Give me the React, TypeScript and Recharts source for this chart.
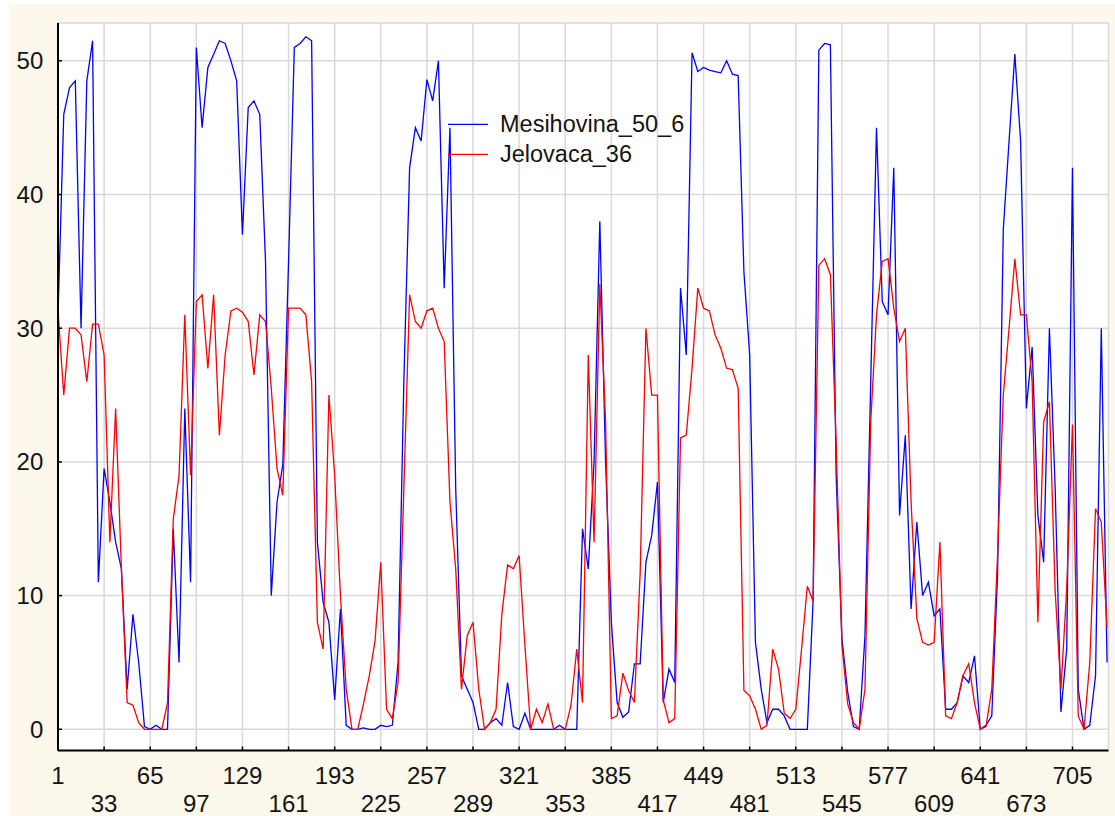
import React from 'react';
import { LineChart, Line, XAxis, YAxis, CartesianGrid, Legend } from 'recharts';

// Readings are taken every 4th day, starting on day 1.
const SAMPLE_STEP = 4;

// Mesihovina_50_6 — one row per 32 days (8 readings)
const mesihovina50_6 = [
  31, 46, 48, 48.5, 30, 48.5, 51.5, 11,
  19.5, 17, 14, 12, 3, 8.6, 5, 0.2,
  0, 0.3, 0, 0, 15, 5, 24, 11,
  51, 45, 49.5, 50.5, 51.5, 51.3, 50, 48.5,
  37, 46.5, 47, 46, 35, 10, 17, 19.8,
  35, 51, 51.3, 51.8, 51.5, 14, 9.5, 8,
  2.2, 9, 0.3, 0, 0, 0.1, 0, 0,
  0.3, 0.2, 0.3, 5, 26, 42, 45, 44,
  48.6, 47, 50, 33, 45, 18, 4, 3,
  2, 0, 0, 0.5, 0.8, 0.3, 3.5, 0.2,
  0, 1.2, 0, 0, 0, 0, 0, 0.3,
  0, 0, 0, 15, 12, 20, 38, 20,
  8, 2, 0.9, 1.3, 4.9, 4.9, 12.5, 14.5,
  18.5, 2, 4.5, 3.5, 33, 28, 50.6, 49.2,
  49.5, 49.3, 49.2, 49.1, 50, 49, 48.9, 34.2,
  28, 6.5, 3, 0.5, 1.5, 1.5, 1, 0,
  0, 0, 0, 9.6, 50.8, 51.3, 51.2, 19,
  6.8, 2.8, 0.2, 0, 7, 26, 45, 32,
  31, 42, 16, 22, 9, 15.5, 10, 11,
  8.5, 9, 1.5, 1.5, 2, 4, 3.5, 5.5,
  0, 0.3, 1, 11.5, 37.4, 44, 50.5, 44,
  24, 28.6, 16, 12.5, 30, 18, 1.3, 6,
  42, 3, 0, 0.3, 4, 30, 5,
];

// Jelovaca_36 — same days as above
const jelovaca36 = [
  31.3, 25, 30, 30, 29.5, 26, 30.3, 30.3,
  28, 14, 24, 12, 2, 1.8, 0.5, 0,
  0, 0, 0, 2, 15.7, 19, 31, 19,
  32, 32.5, 27, 32.5, 22, 28, 31.3, 31.5,
  31.2, 30.5, 26.5, 31, 30.5, 25.5, 19.5, 17.5,
  31.5, 31.5, 31.5, 31, 26, 8, 6, 25,
  19, 10, 3, 0, 0, 1.9, 4, 6.6,
  12.5, 1.5, 0.8, 3.5, 18, 32.5, 30.5, 30,
  31.3, 31.5, 30, 29, 17, 12, 3, 7,
  8, 3, 0, 0.5, 1.5, 8.6, 12.3, 12,
  13, 6.3, 0, 1.5, 0.5, 1.9, 0, 0,
  0, 1.8, 6, 2, 28, 14, 33.3, 23,
  0.8, 1, 4.2, 2.9, 2, 11.7, 30, 25,
  25, 2.2, 0.5, 0.8, 21.8, 22, 27, 33,
  31.5, 31.3, 29.5, 28.5, 27, 26.9, 25.5, 2.9,
  2.5, 1.5, 0, 0.3, 6, 4.5, 1.2, 0.8,
  1.5, 6, 10.7, 9.6, 34.7, 35.2, 34, 21.5,
  6.3, 1.9, 0.5, 0, 3, 23, 31, 35,
  35.2, 31.5, 29, 30, 17, 8.3, 6.5, 6.3,
  6.5, 14, 1, 0.8, 2, 4, 4.9, 2,
  0, 0.2, 3, 13, 25, 30, 35.2, 31,
  31, 26, 8, 23, 24.5, 10.3, 3, 10.5,
  22.8, 1, 0, 5, 16.5, 15.5, 7.6,
];

const seriesOrder = ['Mesihovina_50_6', 'Jelovaca_36'];

const dayTicks = [
  1, 33, 65, 97, 129, 161, 193, 225, 257, 289, 321, 353,
  385, 417, 449, 481, 513, 545, 577, 609, 641, 673, 705,
];
const valueTicks = [0, 10, 20, 30, 40, 50];

const rows = mesihovina50_6.map((value, i) => ({
  day: 1 + i * SAMPLE_STEP,
  mesihovina: value,
  jelovaca: jelovaca36[i],
}));

const FONT = '"Liberation Sans", Arial, Helvetica, sans-serif';
const INK = '#141414';
const TICK_LEN = 4;

// Day labels alternate between two rows so they never collide.
function BottomTick(props: any) {
  const { x, y, payload } = props;
  const lower = dayTicks.indexOf(payload.value) % 2 === 1;
  return (
    <g>
      <line x1={x} x2={x} y1={y} y2={y - TICK_LEN} stroke="#000" strokeWidth={1.5} />
      <text
        x={x}
        y={y + (lower ? 53 : 25)}
        textAnchor="middle"
        dominantBaseline="central"
        fontFamily={FONT}
        fontSize={24}
        fill={INK}
      >
        {payload.value}
      </text>
    </g>
  );
}

function TopTick(props: any) {
  const { x, y } = props;
  return <line x1={x} x2={x} y1={y} y2={y + TICK_LEN} stroke="#000" strokeWidth={1.5} />;
}

function LeftTick(props: any) {
  const { x, y, payload } = props;
  return (
    <g>
      <line x1={x} x2={x + TICK_LEN} y1={y} y2={y} stroke="#000" strokeWidth={1.5} />
      <text
        x={x - 14.7}
        y={y}
        textAnchor="end"
        dominantBaseline="central"
        fontFamily={FONT}
        fontSize={24}
        fill={INK}
      >
        {payload.value}
      </text>
    </g>
  );
}

function RightTick(props: any) {
  const { x, y } = props;
  return <line x1={x} x2={x - TICK_LEN} y1={y} y2={y} stroke="#000" strokeWidth={1.5} />;
}

function SeriesKey(props: any) {
  const items = [...(props.payload || [])].sort(
    (a: any, b: any) => seriesOrder.indexOf(a.value) - seriesOrder.indexOf(b.value)
  );
  return (
    <svg width={260} height={60} style={{ display: 'block', overflow: 'visible' }}>
      {items.map((entry: any, i: number) => {
        const cy = 15.3 + i * 30;
        return (
          <g key={entry.value}>
            <line x1={0} x2={40} y1={cy} y2={cy} stroke={entry.color} strokeWidth={1.3} />
            <text
              x={52}
              y={cy}
              dominantBaseline="central"
              fontFamily={FONT}
              fontSize={23.5}
              fill={INK}
            >
              {entry.value}
            </text>
          </g>
        );
      })}
    </svg>
  );
}

const X_DOMAIN: [number, number] = [1, 730];
const Y_DOMAIN: [number, number] = [-1.586, 52.83];

export default function App() {
  return (
    <div
      style={{
        position: 'absolute',
        left: 9,
        top: 4,
        width: 1106,
        height: 812,
        background: '#fdf8ec',
      }}
    >
      <LineChart
        width={1106}
        height={812}
        data={rows}
        margin={{ top: 19, right: 6.5, bottom: 0, left: 0 }}
      >
        <CartesianGrid fill="#ffffff" stroke="#d9d9d9" strokeWidth={1.5} />
        <XAxis
          dataKey="day"
          type="number"
          domain={X_DOMAIN}
          ticks={dayTicks}
          interval={0}
          height={65.5}
          tickSize={0}
          tickMargin={0}
          tickLine={false}
          axisLine={{ stroke: '#000', strokeWidth: 2 }}
          tick={<BottomTick />}
        />
        <XAxis
          xAxisId="top"
          orientation="top"
          dataKey="day"
          type="number"
          domain={X_DOMAIN}
          ticks={dayTicks}
          interval={0}
          height={0}
          tickSize={0}
          tickMargin={0}
          tickLine={false}
          axisLine={{ stroke: '#1a1a1a', strokeWidth: 1.5 }}
          tick={<TopTick />}
        />
        <YAxis
          type="number"
          domain={Y_DOMAIN}
          ticks={valueTicks}
          interval={0}
          width={49}
          tickSize={0}
          tickMargin={0}
          tickLine={false}
          axisLine={{ stroke: '#000', strokeWidth: 2 }}
          tick={<LeftTick />}
        />
        <YAxis
          yAxisId="right"
          orientation="right"
          type="number"
          domain={Y_DOMAIN}
          ticks={valueTicks}
          interval={0}
          width={0}
          tickSize={0}
          tickMargin={0}
          tickLine={false}
          axisLine={{ stroke: '#3a3a3a', strokeWidth: 1.5 }}
          tick={<RightTick />}
        />
        <Legend
          layout="vertical"
          align="center"
          verticalAlign="middle"
          content={<SeriesKey />}
          wrapperStyle={{ left: 439, top: 105, width: 260, height: 60 }}
        />
        <Line
          type="linear"
          dataKey="mesihovina"
          name="Mesihovina_50_6"
          stroke="#0000ff"
          strokeWidth={1.3}
          dot={false}
          activeDot={false}
          isAnimationActive={false}
        />
        <Line
          type="linear"
          dataKey="jelovaca"
          name="Jelovaca_36"
          stroke="#ff0000"
          strokeWidth={1.3}
          dot={false}
          activeDot={false}
          isAnimationActive={false}
        />
      </LineChart>
    </div>
  );
}
